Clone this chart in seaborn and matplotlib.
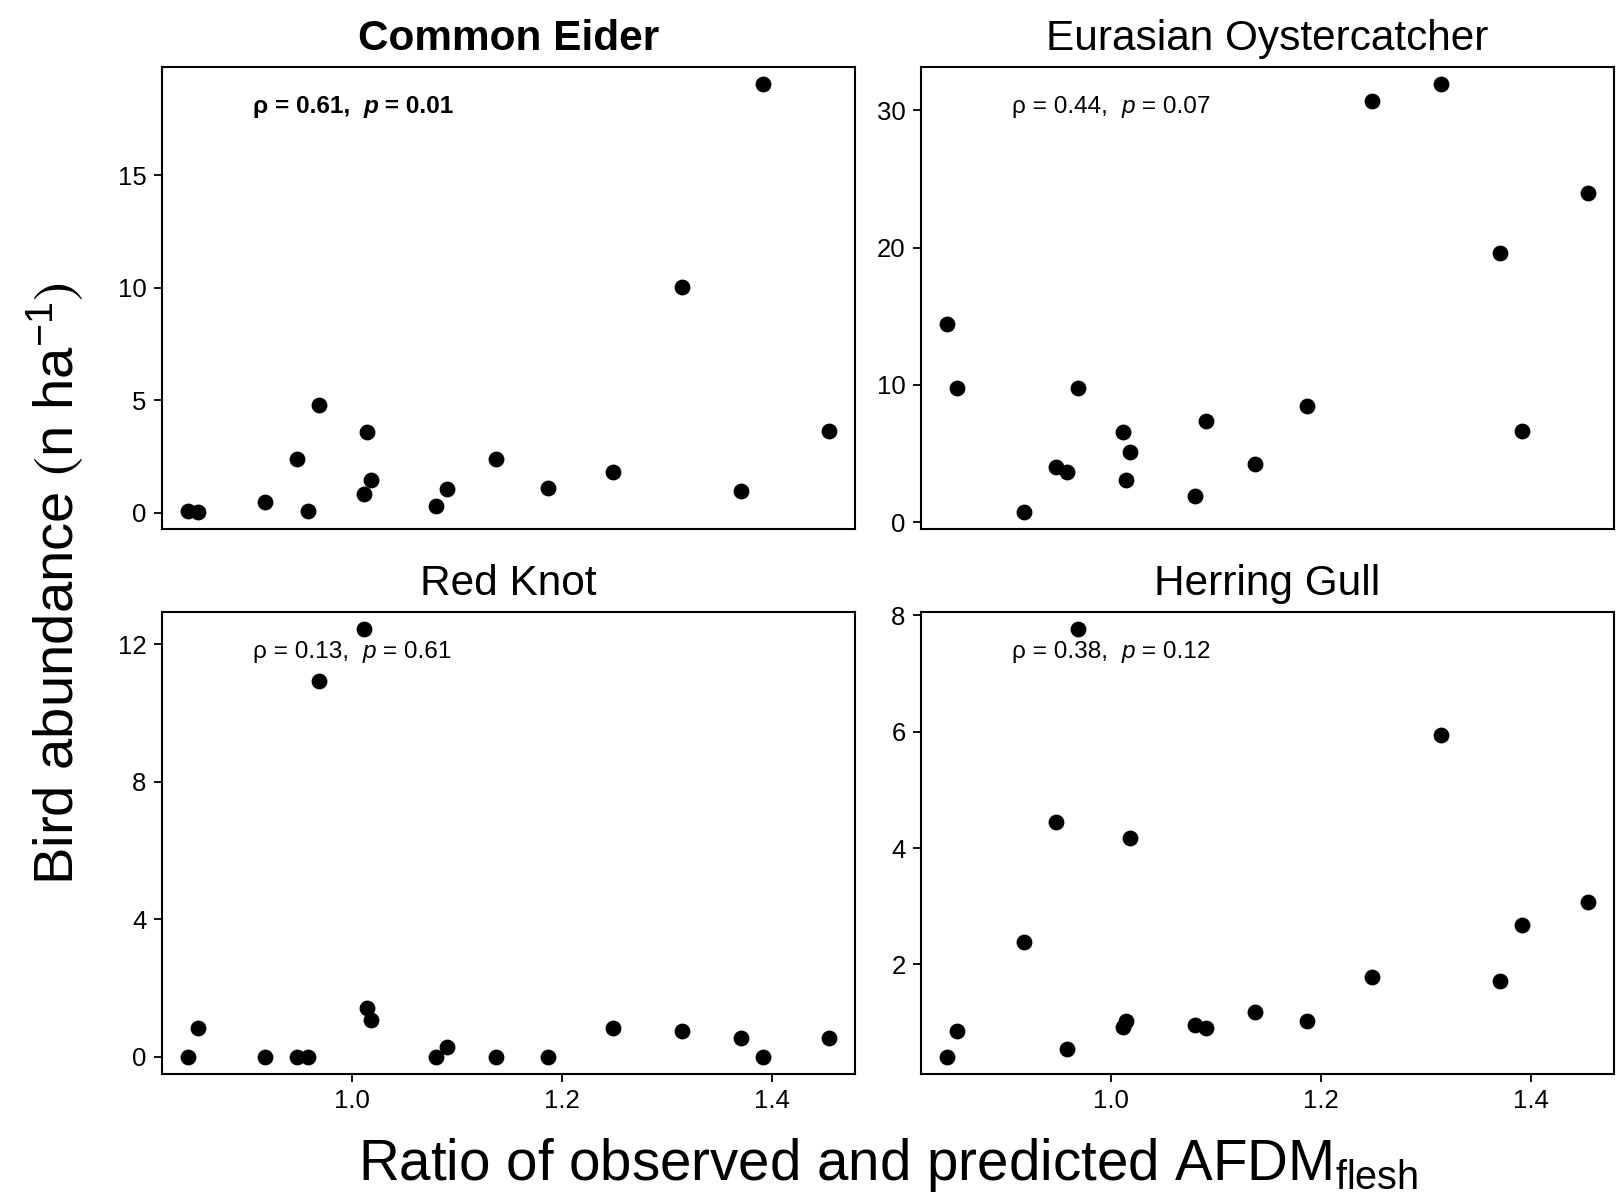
import matplotlib
matplotlib.use("Agg")
import numpy as np
import pandas as pd
import seaborn as sns
import matplotlib.pyplot as plt
from matplotlib.offsetbox import TextArea, HPacker, AnchoredOffsetbox

# Ratio of observed to predicted flesh AFDM per site (shared by all species)
ratio = [0.843, 0.853, 0.917, 0.947, 0.958, 0.968, 1.011, 1.014, 1.018,
         1.080, 1.090, 1.137, 1.187, 1.249, 1.314, 1.371, 1.392, 1.455]

# Bird abundance (n per ha) per site
eider = [0.08, 0.05, 0.50, 2.40, 0.08, 4.80, 0.86, 3.60, 1.47,
         0.33, 1.05, 2.40, 1.13, 1.80, 10.03, 0.98, 19.04, 3.65]
oystercatcher = [14.46, 9.78, 0.74, 4.01, 3.65, 9.80, 6.53, 3.03, 5.10,
                 1.90, 7.39, 4.24, 8.47, 30.70, 31.90, 19.58, 6.65, 24.00]
knot = [0.00, 0.84, 0.00, 0.00, 0.00, 10.94, 12.44, 1.43, 1.06,
        0.00, 0.30, 0.00, 0.00, 0.84, 0.74, 0.54, 0.00, 0.54]
gull = [0.41, 0.85, 2.38, 4.44, 0.54, 7.76, 0.93, 1.03, 4.18,
        0.96, 0.91, 1.19, 1.03, 1.79, 5.95, 1.72, 2.67, 3.08]

species = ["Common Eider", "Eurasian Oystercatcher", "Red Knot", "Herring Gull"]
abundance = [eider, oystercatcher, knot, gull]
spearman_rho = [0.61, 0.44, 0.13, 0.38]
p_values = [0.01, 0.07, 0.61, 0.12]
y_ticks = [[0, 5, 10, 15], [0, 10, 20, 30], [0, 4, 8, 12], [2, 4, 6, 8]]
x_ticks = [1.0, 1.2, 1.4]

sns.set_theme(style="ticks")
plt.rcParams["font.family"] = ["Liberation Sans", "DejaVu Sans"]
plt.rcParams["mathtext.fontset"] = "custom"
plt.rcParams["mathtext.rm"] = "Liberation Sans"
plt.rcParams["mathtext.it"] = "Liberation Sans:italic"
plt.rcParams["mathtext.bf"] = "Liberation Sans:bold"
plt.rcParams["mathtext.sf"] = "Liberation Sans"
plt.rcParams["mathtext.fallback"] = "stixsans"
for key in ["text.color", "axes.labelcolor", "xtick.color", "ytick.color",
            "xtick.labelcolor", "ytick.labelcolor", "axes.edgecolor"]:
    plt.rcParams[key] = "black"

fig, axes = plt.subplots(2, 2, figsize=(16.19, 11.98), dpi=100)
fig.subplots_adjust(left=0.100, right=0.997, top=0.944, bottom=0.1035,
                    wspace=0.095, hspace=0.18)


def stat_label(ax, rho, pval):
    weight = "bold" if pval <= 0.05 else "normal"
    kw = dict(fontsize=17.6, fontweight=weight, color="black")
    parts = [
        TextArea(f"\u03c1 = {rho:.2f},  ", textprops=kw),
        TextArea("p", textprops={**kw, "style": "italic"}),
        TextArea(f" = {pval:.2f}", textprops=kw),
    ]
    box = HPacker(children=parts, align="baseline", pad=0, sep=0)
    anchored = AnchoredOffsetbox(loc="center left", child=box, pad=0,
                                 borderpad=0, frameon=False,
                                 bbox_to_anchor=(0.131, 0.915),
                                 bbox_transform=ax.transAxes)
    ax.add_artist(anchored)


for i, ax in enumerate(axes.flat):
    df = pd.DataFrame({"ratio": ratio, "abundance": abundance[i]})
    sns.scatterplot(data=df, x="ratio", y="abundance", ax=ax,
                    color="black", s=130, linewidth=0, zorder=3)
    ax.margins(0.04)
    ax.set_xlabel("")
    ax.set_ylabel("")
    ax.set_yticks(y_ticks[i])
    ax.set_yticklabels([str(t) for t in y_ticks[i]])
    ax.set_xticks(x_ticks)
    ax.set_xticklabels([f"{t:.1f}" for t in x_ticks])
    ax.tick_params(axis="both", labelsize=18.5, length=6, width=1.3,
                   direction="out", color="black", labelcolor="black", pad=5)
    if i < 2:
        ax.tick_params(axis="x", bottom=False, labelbottom=False)
    for sp in ax.spines.values():
        sp.set_visible(True)
        sp.set_color("black")
        sp.set_linewidth(1.5)
    weight = "bold" if p_values[i] <= 0.05 else "normal"
    ax.set_title(species[i], fontsize=30.5, fontweight=weight, pad=12,
                 color="black")
    stat_label(ax, spearman_rho[i], p_values[i])

fig.text(0.5485, 0.015, r"Ratio of observed and predicted AFDM$_{\mathrm{flesh}}$",
         ha="center", va="baseline", fontsize=40.7, color="black")
fig.text(0.034, 0.513, r"Bird abundance $\left(\mathrm{n\ ha^{-1}}\right)$",
         ha="center", va="center", rotation=90, fontsize=40.5, color="black")

fig.savefig("out.png", dpi=100, facecolor="white")
